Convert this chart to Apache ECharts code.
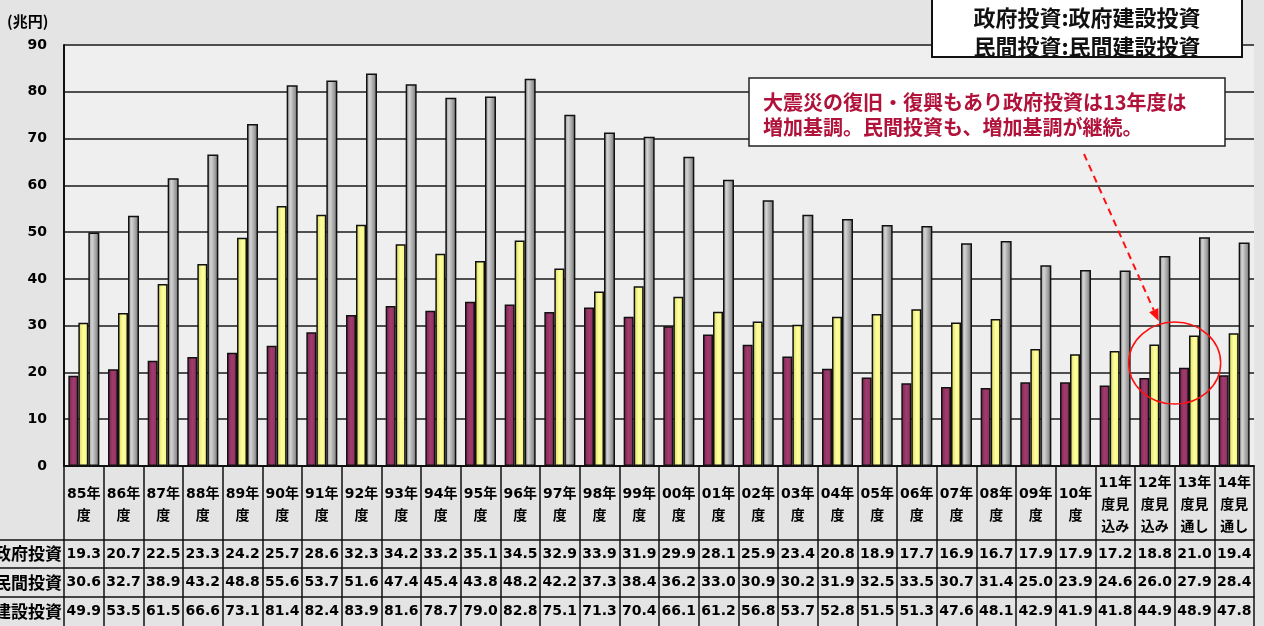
<!DOCTYPE html>
<html>
<head>
<meta charset="utf-8">
<script src="https://cdn.jsdelivr.net/npm/echarts@6/dist/echarts.min.js"></script>
<style>
  html, body { margin: 0; padding: 0; background: #e4e4e4; }
  #chart { width: 1264px; height: 626px; }
</style>
</head>
<body>
<div id="chart"></div>
<script>
// 建設投資の推移（兆円）
const categories = [
  '85年\n度', '86年\n度', '87年\n度', '88年\n度', '89年\n度', '90年\n度', '91年\n度', '92年\n度',
  '93年\n度', '94年\n度', '95年\n度', '96年\n度', '97年\n度', '98年\n度', '99年\n度', '00年\n度',
  '01年\n度', '02年\n度', '03年\n度', '04年\n度', '05年\n度', '06年\n度', '07年\n度', '08年\n度',
  '09年\n度', '10年\n度', '11年\n度見\n込み', '12年\n度見\n込み', '13年\n度見\n通し', '14年\n度見\n通し'
];
const govInvest = [19.3, 20.7, 22.5, 23.3, 24.2, 25.7, 28.6, 32.3, 34.2, 33.2, 35.1, 34.5, 32.9, 33.9, 31.9,
  29.9, 28.1, 25.9, 23.4, 20.8, 18.9, 17.7, 16.9, 16.7, 17.9, 17.9, 17.2, 18.8, 21.0, 19.4];
const privInvest = [30.6, 32.7, 38.9, 43.2, 48.8, 55.6, 53.7, 51.6, 47.4, 45.4, 43.8, 48.2, 42.2, 37.3, 38.4,
  36.2, 33.0, 30.9, 30.2, 31.9, 32.5, 33.5, 30.7, 31.4, 25.0, 23.9, 24.6, 26.0, 27.9, 28.4];
const totalInvest = [49.9, 53.5, 61.5, 66.6, 73.1, 81.4, 82.4, 83.9, 81.6, 78.7, 79.0, 82.8, 75.1, 71.3, 70.4,
  66.1, 61.2, 56.8, 53.7, 52.8, 51.5, 51.3, 47.6, 48.1, 42.9, 41.9, 41.8, 44.9, 48.9, 47.8];
const seriesNames = ['政府投資', '民間投資', '建設投資'];
const yMin = 0, yMax = 90, yStep = 10;
const unitLabel = '(兆円)';
const legendLines = ['政府投資:政府建設投資', '民間投資:民間建設投資'];
const noteLines = ['大震災の復旧・復興もあり政府投資は13年度は', '増加基調。民間投資も、増加基調が継続。'];
const highlightIndex = 27; // 12年度見込み〜13年度見通しの境目を囲む
const highlightValue = 22;

const FONT = "'DejaVu Sans', 'Noto Sans CJK JP', sans-serif";
const CJK = "'Noto Sans CJK JP', sans-serif";

const chart = echarts.init(document.getElementById('chart'), null, { renderer: 'canvas' });

const GRID = { left: 64, right: 10, top: 45, bottom: 160 };
const rowOffsets = [74, 102, 131];

function grad(stops) {
  return { type: 'linear', x: 0, y: 0, x2: 1, y2: 0,
    colorStops: stops.map((c, i) => ({ offset: i / (stops.length - 1), color: c })) };
}

const tableRows = [govInvest, privInvest, totalInvest];

const xAxes = [{
  type: 'category', gridIndex: 0, position: 'bottom', data: categories,
  axisLine: { show: true, lineStyle: { color: '#111', width: 2 } },
  axisTick: { show: true, length: 160, lineStyle: { color: '#111', width: 1.5 } },
  axisLabel: { interval: 0, hideOverlap: false, margin: 39, verticalAlign: 'middle',
    fontFamily: FONT, fontWeight: 'bold', fontSize: 14, color: '#000', lineHeight: 22 },
  splitLine: { show: false }
}].concat(tableRows.map((row, r) => ({
  type: 'category', gridIndex: 0, position: 'bottom', offset: rowOffsets[r], data: categories,
  axisLine: { show: true, lineStyle: { color: '#111', width: 1.5 } },
  axisTick: { show: false },
  axisLabel: { interval: 0, hideOverlap: false, margin: 14, verticalAlign: 'middle',
    fontFamily: FONT, fontWeight: 'bold', fontSize: 14, color: '#000',
    formatter: (v, i) => row[i].toFixed(1) },
  splitLine: { show: false }
})));

const option = {
  backgroundColor: '#e4e4e4',
  animation: false,
  grid: Object.assign({ show: true, backgroundColor: '#efefef', borderWidth: 0, containLabel: false }, GRID),
  xAxis: xAxes,
  yAxis: {
    type: 'value', min: yMin, max: yMax, interval: yStep,
    axisLine: { show: true, lineStyle: { color: '#111', width: 2 } },
    axisTick: { show: false },
    axisLabel: { margin: 17, fontFamily: FONT, fontWeight: 'bold', fontSize: 14, color: '#000' },
    splitLine: { show: true, lineStyle: { color: '#1a1a1a', width: 1.5 } }
  },
  series: [
    { name: seriesNames[0], type: 'bar', data: govInvest, barWidth: 10, barGap: '0%',
      itemStyle: { color: grad(['#7a2250', '#a03c6e', '#8a2c5c']), borderColor: '#111', borderWidth: 1.5 } },
    { name: seriesNames[1], type: 'bar', data: privInvest, barWidth: 10, barGap: '0%',
      itemStyle: { color: grad(['#d6d65a', '#ffffa0', '#f2f27a']), borderColor: '#111', borderWidth: 1.5 } },
    { name: seriesNames[2], type: 'bar', data: totalInvest, barWidth: 11, barGap: '0%',
      itemStyle: { color: grad(['#8a8a8a', '#d4d4d4', '#a4a4a4', '#6e6e6e']), borderColor: '#111', borderWidth: 1.5 } }
  ]
};
chart.setOption(option);

// 単位・表の行見出し・囲み・注記
const elements = [];
elements.push({ type: 'text', x: 7, y: 21,
  style: { text: unitLabel, align: 'left', verticalAlign: 'middle', fontFamily: CJK, fontWeight: 'bold', fontSize: 15, fill: '#000' }, z: 10 });

const rowTops = rowOffsets.map(o => 626 - GRID.bottom + o);
const rowBottoms = rowTops.slice(1).concat([626]);
rowTops.forEach((y, i) => {
  elements.push({ type: 'line', shape: { x1: 0, y1: y, x2: GRID.left, y2: y }, style: { stroke: '#111', lineWidth: 1.5 }, z: 10 });
  elements.push({ type: 'text', x: GRID.left - 2, y: (y + rowBottoms[i]) / 2,
    style: { text: seriesNames[i], align: 'right', verticalAlign: 'middle', fontFamily: CJK, fontWeight: 'bold', fontSize: 17, fill: '#000' }, z: 10 });
});

// 凡例の説明枠
elements.push({ type: 'rect', shape: { x: 932, y: -3, width: 310, height: 60 },
  style: { fill: '#ffffff', stroke: '#111', lineWidth: 2 }, z: 20 });
legendLines.forEach((t, i) => elements.push({ type: 'text', x: 1087, y: 18 + i * 29,
  style: { text: t, align: 'center', verticalAlign: 'middle', fontFamily: CJK, fontWeight: 'bold', fontSize: 22, fill: '#111' }, z: 21 }));

// 注記枠
elements.push({ type: 'rect', shape: { x: 749, y: 78, width: 476, height: 68 },
  style: { fill: '#ffffff', stroke: '#222', lineWidth: 1.5 }, z: 20 });
noteLines.forEach((t, i) => elements.push({ type: 'text', x: 763, y: 102 + i * 25,
  style: { text: t, align: 'left', verticalAlign: 'middle', fontFamily: CJK, fontWeight: 'bold', fontSize: 20, fill: '#b0123a' }, z: 21 }));

// 12・13年度の囲みと矢印
const pA = chart.convertToPixel({ xAxisIndex: 0, yAxisIndex: 0 }, [highlightIndex, highlightValue]);
const pB = chart.convertToPixel({ xAxisIndex: 0, yAxisIndex: 0 }, [highlightIndex + 1, highlightValue]);
const cx = (pA[0] + pB[0]) / 2, cy = pA[1];
const rx = 46, ry = 41;
elements.push({ type: 'ellipse', shape: { cx: cx, cy: cy, rx: rx, ry: ry },
  style: { fill: null, stroke: '#ff1010', lineWidth: 1.5 }, z: 15 });
const tip = [cx - 16, cy - ry - 1];
const start = [1084, 154];
const ang = Math.atan2(tip[1] - start[1], tip[0] - start[0]);
const headLen = 12, headW = 5;
const base = [tip[0] - headLen * Math.cos(ang), tip[1] - headLen * Math.sin(ang)];
elements.push({ type: 'line', shape: { x1: start[0], y1: start[1], x2: base[0], y2: base[1] },
  style: { stroke: '#ff1010', lineWidth: 2, lineDash: [7, 5] }, z: 15 });
elements.push({ type: 'polygon', shape: { points: [
  tip,
  [base[0] + headW * Math.sin(ang), base[1] - headW * Math.cos(ang)],
  [base[0] - headW * Math.sin(ang), base[1] + headW * Math.cos(ang)]
] }, style: { fill: '#ff1010' }, z: 15 });

chart.setOption({ graphic: { elements: elements } });
</script>
</body>
</html>
